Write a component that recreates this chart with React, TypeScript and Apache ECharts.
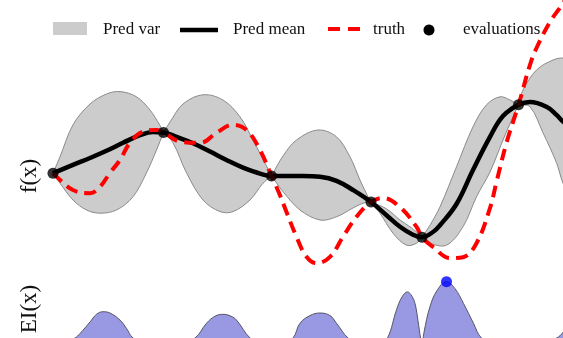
import React, { useEffect, useRef } from "react";
import * as echarts from "echarts";

// evaluations (x, f(x))
const evalX = [0, 2.21, 4.37, 6.36, 7.38, 9.31];
const evalY = [0.17, 1.19, 0.1, -0.55, -1.43, 1.88];

// predicted mean
const meanX = [0, 0.4, 0.74, 1.07, 1.4, 1.74, 2.0, 2.21, 2.47, 2.8, 3.14, 3.47, 3.8, 4.14, 4.37, 4.67, 5.0, 5.34, 5.67, 6.0, 6.36, 6.67, 6.94, 7.2, 7.38, 7.6, 7.74, 8.07, 8.4, 8.74, 9.0, 9.31, 9.54, 9.87, 10.07, 10.2, 10.54, 10.94];
const meanY = [0.17, 0.38, 0.55, 0.73, 0.93, 1.12, 1.2, 1.19, 1.08, 0.92, 0.71, 0.5, 0.31, 0.16, 0.1, 0.1, 0.1, 0.08, -0.02, -0.25, -0.55, -0.88, -1.17, -1.37, -1.43, -1.3, -1.13, -0.6, 0.25, 1.08, 1.6, 1.88, 1.95, 1.83, 1.63, 1.46, 1.13, 0.75];

// ground truth
const truthX = [0, 0.07, 0.4, 0.74, 0.94, 1.14, 1.34, 1.54, 1.8, 2.07, 2.21, 2.54, 2.94, 3.27, 3.6, 3.87, 4.14, 4.37, 4.54, 4.67, 4.87, 5.07, 5.27, 5.54, 5.8, 6.07, 6.36, 6.6, 6.94, 7.27, 7.38, 7.6, 7.94, 8.2, 8.47, 8.74, 8.87, 9.07, 9.31, 9.54, 9.67, 9.94, 10.18, 10.44];
const truthY = [0.17, 0.08, -0.25, -0.33, -0.17, 0.18, 0.5, 0.93, 1.21, 1.25, 1.19, 0.96, 0.93, 1.18, 1.38, 1.25, 0.75, 0.1, -0.38, -0.8, -1.42, -1.92, -2.08, -1.92, -1.42, -0.92, -0.55, -0.45, -0.68, -1.17, -1.43, -1.67, -1.95, -1.93, -1.58, -0.7, -0.05, 0.93, 1.88, 2.88, 3.3, 3.95, 4.38, 4.88];

// predictive variance band, one segment between consecutive evaluations
const varUpper: number[][][] = [
  [[0, 0.17], [0.14, 0.58], [0.4, 1.38], [0.74, 1.9], [1.07, 2.15], [1.34, 2.21], [1.67, 2.08], [1.94, 1.75], [2.14, 1.36], [2.21, 1.19]],
  [[2.21, 1.19], [2.34, 1.45], [2.6, 1.9], [3.0, 2.13], [3.4, 2.0], [3.74, 1.58], [4.0, 1.0], [4.27, 0.35], [4.37, 0.1]],
  [[4.37, 0.1], [4.6, 0.6], [4.87, 1.0], [5.3, 1.25], [5.67, 1.08], [5.94, 0.58], [6.14, 0.0], [6.3, -0.42], [6.36, -0.55]],
  [[6.36, -0.55], [6.67, -0.72], [6.94, -1.0], [7.14, -1.17], [7.27, -1.3], [7.38, -1.43]],
  [[7.38, -1.43], [7.54, -1.13], [7.74, -0.67], [8.07, 0.33], [8.4, 1.33], [8.67, 1.88], [8.94, 2.08], [9.14, 2.0], [9.31, 1.88]],
  [[9.31, 1.88], [9.4, 2.25], [9.67, 2.75], [10.0, 3.0], [10.2, 3.05], [10.54, 3.0], [10.94, 2.75]],
];
const varLower: number[][][] = [
  [[0, 0.17], [0.14, -0.08], [0.4, -0.5], [0.67, -0.75], [0.94, -0.83], [1.27, -0.75], [1.6, -0.42], [1.87, 0.18], [2.07, 0.75], [2.21, 1.19]],
  [[2.21, 1.19], [2.4, 0.93], [2.67, 0.18], [3.0, -0.5], [3.34, -0.79], [3.6, -0.79], [3.94, -0.5], [4.2, -0.08], [4.37, 0.1]],
  [[4.37, 0.1], [4.6, -0.29], [4.94, -0.75], [5.34, -1.0], [5.67, -0.92], [6.0, -0.7], [6.2, -0.58], [6.36, -0.55]],
  [[6.36, -0.55], [6.54, -0.83], [6.8, -1.33], [7.07, -1.63], [7.27, -1.58], [7.38, -1.43]],
  [[7.38, -1.43], [7.54, -1.58], [7.87, -1.63], [8.2, -1.17], [8.47, -0.42], [8.74, 0.2], [9.0, 1.0], [9.2, 1.58], [9.31, 1.88]],
  [[9.31, 1.88], [9.54, 1.83], [9.8, 1.18], [10.07, 0.43], [10.2, -0.08], [10.54, -1.0], [10.94, -1.75]],
];

// expected improvement
const eiX = [0, 0.24, 0.44, 0.54, 0.74, 0.87, 1.0, 1.14, 1.34, 1.47, 1.6, 1.8, 2.21, 2.54, 2.84, 3.07, 3.24, 3.4, 3.56, 3.67, 3.94, 4.14, 4.37, 4.6, 4.8, 4.94, 5.14, 5.34, 5.54, 5.67, 5.9, 6.1, 6.36, 6.54, 6.69, 6.87, 6.98, 7.09, 7.18, 7.24, 7.3, 7.35, 7.38, 7.42, 7.54, 7.68, 7.87, 8.04, 8.21, 8.41, 8.57, 8.84, 9.31, 9.74, 10.07, 10.2, 10.44, 10.74];
const eiY = [0, 0.04, 0.11, 0.18, 0.36, 0.48, 0.52, 0.5, 0.39, 0.26, 0.11, 0.04, 0, 0.03, 0.11, 0.34, 0.45, 0.48, 0.45, 0.39, 0.11, 0.03, 0, 0.03, 0.11, 0.34, 0.46, 0.5, 0.46, 0.34, 0.11, 0.03, 0, 0.03, 0.11, 0.55, 0.75, 0.83, 0.76, 0.65, 0.38, 0.11, 0, 0.2, 0.6, 0.85, 0.99, 0.88, 0.65, 0.34, 0.11, 0.02, 0, 0.03, 0.11, 0.2, 0.5, 0.75];
const eiBest = [7.87, 0.99];

const SERIF = '"Liberation Serif", "DejaVu Serif", serif';

export default function App() {
  const ref = useRef<HTMLDivElement>(null);
  useEffect(() => {
    const chart = echarts.init(ref.current!, null, { renderer: "svg" });
    const zip = (xs: number[], ys: number[]) => xs.map((x, i) => [x, ys[i]]);
    const txt = (text: string, x: number, y: number, size: number, rot = 0, align = "left") => ({
      type: "text",
      x,
      y,
      rotation: rot,
      style: {
        text,
        font: `${size}px ${SERIF}`,
        fill: "#111",
        align,
        verticalAlign: "middle",
        textAlign: align,
        textVerticalAlign: "middle",
      },
    });
    chart.setOption({
      animation: false,
      grid: [
        { left: 53, right: 0, top: 0, height: 280 },
        { left: 53, right: 0, top: 281, bottom: 0 },
      ],
      xAxis: [
        { type: "value", min: 0, max: 10.2, show: false, gridIndex: 0 },
        { type: "value", min: 0, max: 10.2, show: false, gridIndex: 1 },
      ],
      yAxis: [
        { type: "value", min: -2.5, max: 4.5, show: false, gridIndex: 0 },
        { type: "value", min: 0.11, max: 1, show: false, gridIndex: 1 },
      ],
      series: [
        {
          type: "custom",
          name: "Pred var",
          xAxisIndex: 0,
          yAxisIndex: 0,
          data: varUpper.map((s) => s[0]),
          renderItem: (params: any, api: any) => {
            const i = params.dataIndex;
            const pts = varUpper[i]
              .map((p) => api.coord(p))
              .concat(varLower[i].slice().reverse().map((p) => api.coord(p)));
            return {
              type: "polygon",
              shape: { points: pts, smooth: 0.35 },
              style: { fill: "#cccccc", stroke: "#8a8a8a", lineWidth: 1 },
            };
          },
          z: 1,
        },
        {
          type: "line",
          name: "Pred mean",
          xAxisIndex: 0,
          yAxisIndex: 0,
          data: zip(meanX, meanY),
          smooth: 0.4,
          symbol: "none",
          lineStyle: { color: "#000", width: 4.5 },
          z: 2,
        },
        {
          type: "line",
          name: "truth",
          xAxisIndex: 0,
          yAxisIndex: 0,
          data: zip(truthX, truthY),
          smooth: 0.4,
          symbol: "none",
          clip: false,
          lineStyle: { color: "#ff0000", width: 4, type: [12, 7], cap: "butt" },
          z: 3,
        },
        {
          type: "scatter",
          name: "evaluations",
          xAxisIndex: 0,
          yAxisIndex: 0,
          data: zip(evalX, evalY),
          symbolSize: 11,
          itemStyle: { color: "#000" },
          z: 4,
        },
        {
          type: "line",
          name: "EI",
          xAxisIndex: 1,
          yAxisIndex: 1,
          data: zip(eiX, eiY),
          smooth: 0.4,
          symbol: "none",
          clip: true,
          lineStyle: { color: "#555566", width: 1 },
          areaStyle: { color: "#9999e3", opacity: 1 },
          z: 2,
        },
        {
          type: "scatter",
          name: "next",
          xAxisIndex: 1,
          yAxisIndex: 1,
          data: [eiBest],
          symbolSize: 11,
          clip: false,
          itemStyle: { color: "#0000ff" },
          z: 4,
        },
      ],
      graphic: [
        { type: "rect", shape: { x: 53, y: 22, width: 34, height: 13 }, style: { fill: "#cccccc" } },
        txt("Pred var", 103, 28, 17),
        { type: "line", shape: { x1: 180, y1: 30, x2: 218, y2: 30 }, style: { stroke: "#000", lineWidth: 4.5 } },
        txt("Pred mean", 233, 28, 17),
        { type: "line", shape: { x1: 328, y1: 29, x2: 361, y2: 29 }, style: { stroke: "#ff0000", lineWidth: 4, lineDash: [12, 8] } },
        txt("truth", 373, 28, 17),
        { type: "circle", shape: { cx: 429, cy: 30, r: 5.5 }, style: { fill: "#000" } },
        txt("evaluations", 463, 28, 17),
        txt("f(x)", 28, 176, 23, Math.PI / 2, "center"),
        txt("EI(x)", 28, 309, 23, Math.PI / 2, "center"),
      ],
    });
    return () => chart.dispose();
  }, []);
  return (
    <div
      ref={ref}
      style={{ position: "fixed", left: 0, top: 0, width: 563, height: 338 }}
    />
  );
}
